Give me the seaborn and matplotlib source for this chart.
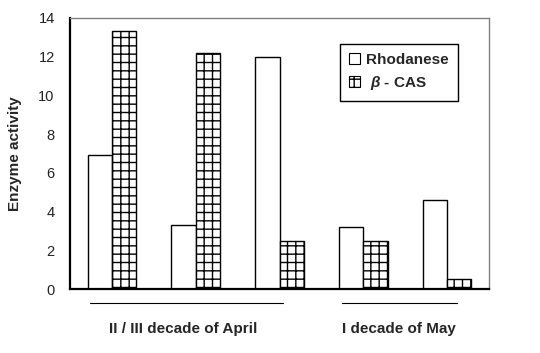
import pandas as pd
import matplotlib
matplotlib.use('Agg')
import matplotlib.pyplot as plt
import matplotlib.patches as mpatches
import seaborn as sns

# values
samples = ['S1', 'S2', 'S3', 'S4', 'S5']
rhodanese = [6.9, 3.3, 12.0, 3.2, 4.6]
beta_cas = [13.3, 12.2, 2.5, 2.5, 0.5]
enzymes = ['Rhodanese', 'β - CAS']
period_labels = ['II / III decade of April', 'I decade of May']

# long format table for seaborn
df = pd.DataFrame({
    'sample': samples * 2,
    'enzyme': [enzymes[0]] * len(samples) + [enzymes[1]] * len(samples),
    'activity': rhodanese + beta_cas,
})

sns.set_style('white')
plt.rcParams['font.family'] = ['Liberation Sans', 'DejaVu Sans']
plt.rcParams['mathtext.fontset'] = 'custom'
plt.rcParams['mathtext.it'] = 'Liberation Sans:italic:bold'
plt.rcParams['hatch.linewidth'] = 1.0

fig = plt.figure(figsize=(5.4, 3.53), dpi=100)
ax = fig.add_axes([0.1296, 0.1813, 0.776, 0.768])

sns.barplot(data=df, x='sample', y='activity', hue='enzyme',
            palette=['white', 'white'], edgecolor='black', linewidth=1.0,
            width=0.58, gap=0, legend=False, ax=ax)

# grid hatch on the second series
for bar in ax.containers[1]:
    bar.set_hatch('++')

ax.set_xlim(-0.5, len(samples) - 0.5)
ax.set_ylim(0, 14)
ax.set_yticks(range(0, 15, 2))
ax.set_xticks([i - 0.5 for i in range(len(samples) + 1)])
ax.set_xticklabels([])
ax.set_xlabel('')
ax.set_ylabel('Enzyme activity', fontsize=11, fontweight='bold', labelpad=12)
ax.tick_params(axis='y', direction='inout', length=6, width=1.5, labelsize=10.5, pad=8,
               labelcolor='#222222')
ax.tick_params(axis='x', direction='inout', length=7, width=1.5)

for side in ['left', 'bottom']:
    ax.spines[side].set_color('black')
    ax.spines[side].set_linewidth(1.6)
for side in ['top', 'right']:
    ax.spines[side].set_color('#808080')
    ax.spines[side].set_linewidth(1.0)

# period brackets under the axis
trans = ax.get_xaxis_transform()
ax.plot([-0.26, 2.04], [-0.052, -0.052], color='black', lw=0.8, transform=trans, clip_on=False)
ax.plot([2.75, 4.12], [-0.052, -0.052], color='black', lw=0.8, transform=trans, clip_on=False)
ax.text(0.85, -0.148, period_labels[0], transform=trans, ha='center', va='center',
        fontsize=11, fontweight='bold')
ax.text(3.42, -0.148, period_labels[1], transform=trans, ha='center', va='center',
        fontsize=11, fontweight='bold')

handles = [
    mpatches.Patch(facecolor='white', edgecolor='black', linewidth=0.8),
    mpatches.Patch(facecolor='white', edgecolor='black', linewidth=0.8, hatch='++'),
]
leg = ax.legend(handles, ['Rhodanese', r' $\beta$ - CAS'], loc='upper left',
                bbox_to_anchor=(0.644, 0.904), borderaxespad=0, fancybox=False,
                framealpha=1, edgecolor='black', handlelength=0.75, handleheight=0.75,
                handletextpad=0.35, borderpad=0.6, labelspacing=0.45,
                prop={'size': 11, 'weight': 'bold'})
leg.get_frame().set_linewidth(1.0)

fig.savefig('out.png', dpi=100)
